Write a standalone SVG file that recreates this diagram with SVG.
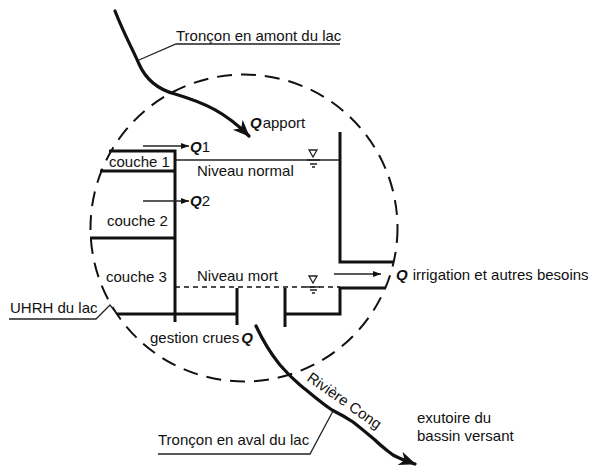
<svg xmlns="http://www.w3.org/2000/svg" width="597" height="473" viewBox="0 0 597 473">
<style>
text{font-family:"Liberation Sans",Arial,sans-serif;font-size:15px;fill:#111}
.q{font-weight:bold;font-style:italic}
.w{fill:none;stroke:#111;stroke-width:3}
.t{fill:none;stroke:#222;stroke-width:1.3}
.r{fill:none;stroke:#111;stroke-linecap:round}
</style>
<defs>
<marker id="a" markerUnits="userSpaceOnUse" markerWidth="10" markerHeight="8" refX="8" refY="4" orient="auto"><path d="M0 1L8 4L0 7z" fill="#111"/></marker>
<marker id="b" markerUnits="userSpaceOnUse" markerWidth="20" markerHeight="16" refX="16" refY="8" orient="auto"><path d="M0 1L17 8L0 15L5 8z" fill="#111"/></marker>
</defs>
<g id="limite"><circle cx="244" cy="228" r="153.5" fill="none" stroke="#111" stroke-width="2" stroke-dasharray="15 9"/></g>
<g id="lac">
<path class="w" d="M109 151H175V322"/>
<path class="w" d="M100 171H175"/>
<path class="w" d="M90 238H175"/>
<path class="w" d="M117 314H237"/>
<path class="w" d="M237 288V325"/>
<path class="w" d="M285 288V327"/>
<path class="w" d="M285 314H340V288H385"/>
<path class="w" d="M340 132V262H393"/>
<path class="t" d="M175 160H340"/>
<path d="M175 287H340" fill="none" stroke="#111" stroke-width="1.3" stroke-dasharray="5 4"/>
</g>
<g id="niveau-normal">
<path class="t" d="M309 150H317L313 157z" stroke-width="1"/><path class="t" d="M307 160H320M310 164H317M312 167H315" stroke-width="1"/>
<text x="197" y="176">Niveau normal</text>
</g>
<g id="niveau-mort">
<path class="t" d="M309 276H317L313 283z" stroke-width="1"/><path class="t" d="M306 287H320M310 290H317M312 293H315" stroke-width="1"/>
<text x="197" y="281">Niveau mort</text>
</g>
<g id="couche-1"><text x="109" y="167">couche 1</text></g>
<g id="couche-2"><text x="107" y="226">couche 2</text></g>
<g id="couche-3"><text x="106" y="282">couche 3</text></g>
<g id="q1"><text x="190" y="152"><tspan class="q">Q</tspan>1</text></g>
<g id="q2"><text x="190" y="206"><tspan class="q">Q</tspan>2</text></g>
<g id="qapport"><text x="250" y="128"><tspan class="q">Q</tspan><tspan dx="1">apport</tspan></text></g>
<g id="qirrigation"><text x="396" y="280"><tspan class="q">Q</tspan><tspan dx="5">irrigation et autres besoins</tspan></text></g>
<g id="gestion"><text x="150" y="343">gestion crues<tspan class="q" dx="2">Q</tspan></text></g>
<g id="uhrh"><text x="10" y="313">UHRH du lac</text></g>
<g id="amont"><text x="176" y="41">Tronçon en amont du lac</text></g>
<g id="aval"><text x="158" y="445">Tronçon en aval du lac</text></g>
<g id="exutoire"><text x="417" y="423">exutoire du</text><text x="417" y="441">bassin versant</text></g>
<g id="riviere"><text transform="translate(306 380) rotate(35)">Rivière Cong</text></g>
<g id="connecteurs">
<path class="r" stroke-width="3.2" marker-end="url(#b)" d="M115 11C124 34 133 50 139 64C147 82 160 90 175 94C205 103 225 112 249 136"/>
<path class="r" stroke-width="3.2" marker-end="url(#b)" d="M256 326C264 343 271 354 280 365C287 373 293 379 300 385C310 393 321 403 332 410C340 414 347 418 353 422C362 429 369 435 375 440C382 447 388 451 393 455C400 459 407 461 415 464"/>
<path class="t" d="M139 60L176 44H340"/>
<path class="t" d="M158 454H310L333 411"/>
<path class="t" d="M9 319H96L110 305L117 314"/>
<path class="t" marker-end="url(#a)" d="M143 146H189"/>
<path class="t" marker-end="url(#a)" d="M143 201H189"/>
<path class="t" marker-end="url(#a)" d="M334 274H381"/>
</g>
</svg>
